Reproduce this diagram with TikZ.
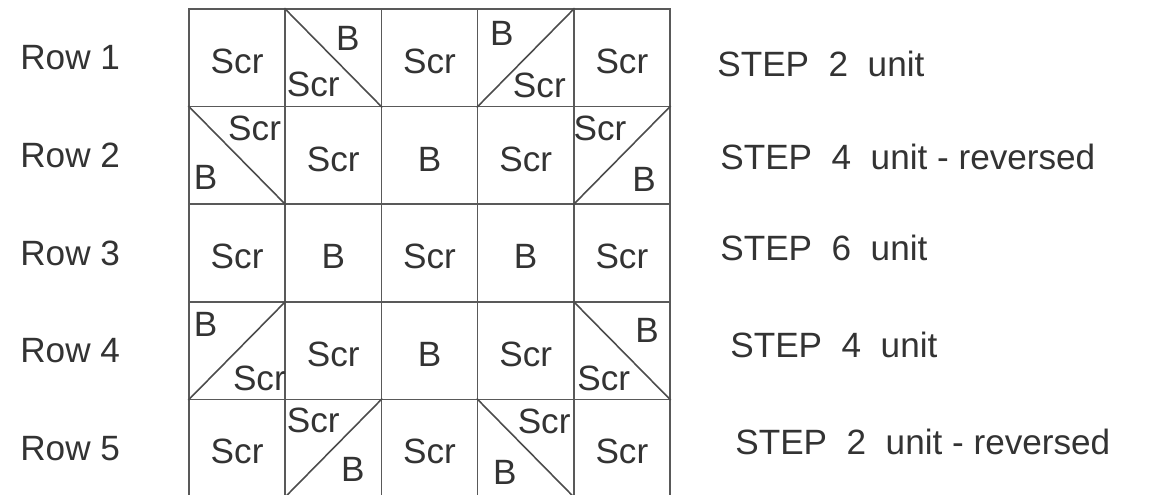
\documentclass[tikz,border=0pt]{standalone}
\usepackage{fontspec}
\setmainfont{Liberation Sans}
\usetikzlibrary{calc}
\begin{document}
\begin{tikzpicture}[x=0.02cm, y=-0.02cm,
    cellbox/.style={draw=black!65, line width=0.9pt, minimum width=1.924cm, minimum height=1.952cm, inner sep=0pt},
    seam/.style={draw=black!70, line width=0.9pt},
    word/.style={text=black!80, font=\fontsize{20}{24}\selectfont, inner sep=0pt}]
    \useasboundingbox (0,0) rectangle (1160,494);
    \fill[white] (0,0) rectangle (1160,494);
    % the 5 x 5 block
    \foreach \r in {1,...,5}
        \foreach \c in {1,...,5}
            \node[cellbox] (c\r\c) at ({189+96.2*(\c-0.5)}, {9+97.6*(\r-0.5)}) {};
    \foreach \n in {c12,c21,c45,c54}
        \draw[seam] (\n.north west) -- (\n.south east);
    \foreach \n in {c14,c25,c41,c52}
        \draw[seam] (\n.south west) -- (\n.north east);
    % whole squares
    \foreach \n/\u in {c11/Scr,c13/Scr,c15/Scr,c22/Scr,c23/B,c24/Scr,c31/Scr,c32/B,c33/Scr,c34/B,c35/Scr,
                       c42/Scr,c43/B,c44/Scr,c51/Scr,c53/Scr,c55/Scr}
        \node[word] (w-\n) at ([yshift=-2pt]\n) {\u};
    % half squares
    \foreach \n/\u/\a/\b in {c12/B/0.66/0.31, c12/Scr/0.30/0.78, c14/B/0.26/0.26, c14/Scr/0.65/0.79,
                             c21/Scr/0.69/0.23, c21/B/0.18/0.73, c25/Scr/0.28/0.23, c25/B/0.74/0.75,
                             c41/B/0.18/0.24, c41/Scr/0.74/0.79, c45/B/0.77/0.30, c45/Scr/0.32/0.79,
                             c52/Scr/0.30/0.22, c52/B/0.71/0.73, c54/Scr/0.70/0.23, c54/B/0.29/0.76}
        \node[word] (h-\n-\u) at ($(\n.north west)+(\a*96.2,\b*97.6)$) {\u};
    % labels left and right
    \foreach \r in {1,...,5}
        \node[word, anchor=west] (row\r) at (20, {9+97.6*(\r-0.5)}) {Row \r};
    \node[word, anchor=west] (step1) at (717, 64) {STEP\ \ 2\ \ unit};
    \node[word, anchor=west] (step2) at (720, 157) {STEP\ \ 4\ \ unit - reversed};
    \node[word, anchor=west] (step3) at (720, 248) {STEP\ \ 6\ \ unit};
    \node[word, anchor=west] (step4) at (730, 345) {STEP\ \ 4\ \ unit};
    \node[word, anchor=west] (step5) at (735, 442) {STEP\ \ 2\ \ unit - reversed};
\end{tikzpicture}
\end{document}
